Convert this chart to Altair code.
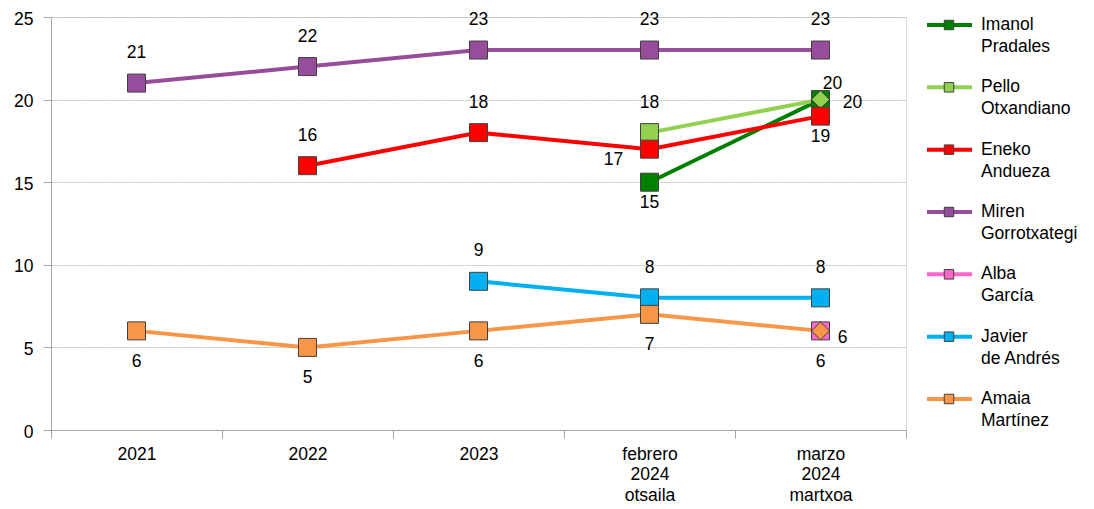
import altair as alt
import pandas as pd

periods = ["2021", "2022", "2023", "febrero 2024 otsaila", "marzo 2024 martxoa"]

candidates = ["Imanol Pradales", "Pello Otxandiano", "Eneko Andueza",
              "Miren Gorrotxategi", "Alba García", "Javier de Andrés", "Amaia Martínez"]
legend_labels = ["Imanol\nPradales", "Pello\nOtxandiano", "Eneko\nAndueza",
                 "Miren\nGorrotxategi", "Alba\nGarcía", "Javier\nde Andrés", "Amaia\nMartínez"]
colors = ["#008000", "#92d050", "#ff0000", "#974c9c", "#ff66cc", "#00b0f0", "#f79646"]

imanol = [None, None, None, 15, 20]
pello = [None, None, None, 18, 20]
eneko = [None, 16, 18, 17, 19]
miren = [21, 22, 23, 23, 23]
alba = [None, None, None, None, 6]
javier = [None, None, 9, 8, 8]
amaia = [6, 5, 6, 7, 6]
series_values = [imanol, pello, eneko, miren, alba, javier, amaia]

# marker shape per point
shapes = [
    [None, None, None, "square", "square"],
    [None, None, None, "square", "diamond"],
    [None, "square", "square", "square", "square"],
    ["square"] * 5,
    [None, None, None, None, "square"],
    [None, None, "square", "square", "square"],
    ["square", "square", "square", "square", "diamond"],
]
# label placement code per point
label_pos = [
    [None, None, None, "bn", "tr"],
    [None, None, None, "t", "rr"],
    [None, "t", "t", "lb", "bn"],
    ["t"] * 5,
    [None, None, None, None, "r"],
    [None, None, "t", "t", "t"],
    ["b"] * 5,
]
offsets = {"t": (0, -30), "b": (0, 31), "bn": (0, 21), "r": (22, 7),
           "rr": (32, 3), "lb": (-36, 11), "tr": (12, -16)}

rows = []
for i, (cand, vals) in enumerate(zip(candidates, series_values)):
    for j, v in enumerate(vals):
        if v is None:
            continue
        rows.append({"candidate": cand, "period": periods[j], "value": v,
                     "order": i * 10 + j, "shape": shapes[i][j], "pos": label_pos[i][j]})
df = pd.DataFrame(rows)

FONT = "Liberation Sans"
FS = 17.5
W, H = 855, 413

color_scale = alt.Scale(domain=candidates, range=colors)

X = alt.X("period:N", sort=periods,
          scale=alt.Scale(type="band", domain=periods, paddingInner=0, paddingOuter=0),
          axis=alt.Axis(title=None, labelExpr="split(datum.label, ' ')", labelAngle=0,
                        tickBand="extent", grid=False, domainColor="#a6a6a6",
                        tickColor="#a6a6a6", tickSize=8, labelFontSize=FS,
                        labelLineHeight=20.5, labelPadding=7, labelColor="#000000",
                        labelFont=FONT))
Y = alt.Y("value:Q", scale=alt.Scale(domain=[0, 25]),
          axis=alt.Axis(title=None, values=[0, 5, 10, 15, 20, 25], tickSize=8,
                        labelPadding=10, labelOffset=2, gridColor="#bfbfbf",
                        gridDash=[2, 1], domainColor="#a6a6a6", tickColor="#a6a6a6",
                        labelFontSize=FS, labelColor="#000000", labelFont=FONT))

lines = alt.Chart(df).mark_line(strokeWidth=4).encode(
    x=X, y=Y,
    color=alt.Color("candidate:N", scale=color_scale, legend=None),
    order=alt.Order("order:Q"),
)
points = alt.Chart(df).mark_point(filled=True, size=324, stroke="#404040",
                                  strokeWidth=1, opacity=1).encode(
    x=X, y=Y,
    fill=alt.Fill("candidate:N", scale=color_scale, legend=None),
    shape=alt.Shape("shape:N", scale=None),
    order=alt.Order("order:Q"),
)
layers = [lines, points]
for code, (dx, dy) in offsets.items():
    layers.append(
        alt.Chart(df).transform_filter(alt.datum.pos == code).mark_text(
            dx=dx, dy=dy, fontSize=FS, font=FONT, color="#000000"
        ).encode(x=X, y=Y, text=alt.Text("value:Q"))
    )
main = alt.layer(*layers)

# custom legend on the right of the plot area
leg_df = pd.DataFrame({"candidate": candidates, "label": legend_labels})
LY = alt.Y("candidate:N", sort=candidates,
           scale=alt.Scale(type="point", domain=candidates, range=[8, 382], padding=0),
           axis=None)
rule = alt.Chart(leg_df).mark_rule(strokeWidth=4).encode(
    x=alt.value(W + 21), x2=alt.value(W + 66), y=LY,
    color=alt.Color("candidate:N", scale=color_scale, legend=None))
sq = alt.Chart(leg_df).mark_point(shape="square", filled=True, size=90, stroke="#404040",
                                  strokeWidth=1, opacity=1).encode(
    x=alt.value(W + 43), y=LY,
    fill=alt.Fill("candidate:N", scale=color_scale, legend=None))
txt = alt.Chart(leg_df).mark_text(align="left", baseline="middle", lineBreak="\n",
                                  lineHeight=22, fontSize=FS, font=FONT,
                                  color="#000000").encode(
    x=alt.value(W + 75), y=LY, text="label:N")
legend_layer = alt.layer(rule, sq, txt)

chart = alt.layer(main, legend_layer).resolve_scale(y="independent").properties(
    width=W, height=H,
    padding={"left": 5, "top": 2, "right": 0, "bottom": 0},
).configure_view(strokeWidth=0).configure(font=FONT)

chart.save("out.html", embed_options={"renderer": "svg", "actions": False})
